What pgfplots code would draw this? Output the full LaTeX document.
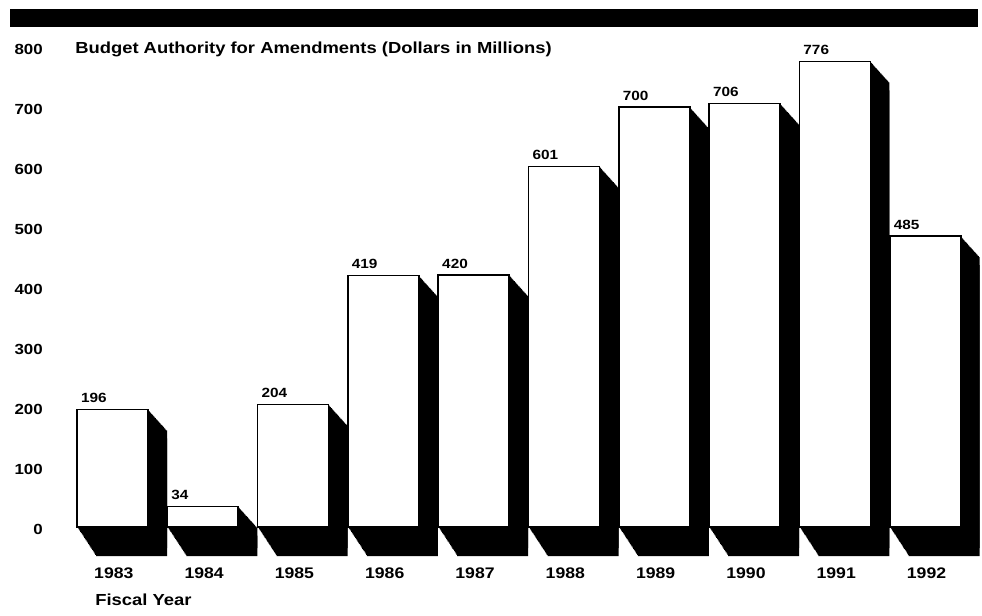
\documentclass[border=0pt]{standalone}
\usepackage{fontspec}
\setmainfont{Liberation Sans}[FakeStretch=1.15]
\usepackage{pgfplots}
\usepackage{pgfplotstable}
\pgfplotsset{compat=1.18}
\pgfplotsset{/pgf/number format/assume math mode=true}
\pgfplotstableread{
x y
0 196
1 34
2 204
3 419
4 420
5 601
6 700
7 706
8 776
9 485
}\datatable
\begin{document}
\begin{tikzpicture}
\useasboundingbox (0pt,0pt) rectangle (736.5pt,461.25pt);
\fill[black] (7.5pt,441pt) rectangle (733.5pt,454.5pt);
\node[anchor=base west, inner sep=0pt, font=\bfseries\fontsize{12}{14}\selectfont] at (56.25pt,421.1pt) {Budget Authority for Amendments (Dollars in Millions)};
\node[anchor=base west, inner sep=0pt, font=\bfseries\fontsize{12}{14}\selectfont] at (71.25pt,7.5pt) {Fiscal Year};
\begin{axis}[
  at={(50.5125pt,66pt)}, anchor=south west,
  scale only axis, width=684.04pt, height=360pt,
  xmin=-0.5, xmax=9.6, ymin=0, ymax=800,
  axis line style={draw=none}, tick style={draw=none},
  clip=false,
  xtick={0,1,2,3,4,5,6,7,8,9},
  xticklabels={1983,1984,1985,1986,1987,1988,1989,1990,1991,1992},
  ytick={0,100,...,800},
  yticklabel style={anchor=east, inner sep=0pt, xshift=-18.3pt, yshift=-1.5pt, font=\bfseries\fontsize{11}{13}\selectfont},
  xticklabel style={anchor=north, inner sep=0pt, yshift=-30.75pt, xshift=1pt, font=\bfseries\fontsize{11.5}{14}\selectfont},
]
\pgfplotsinvokeforeach{1,...,24}{
  \addplot[ybar, bar width=53.25pt, bar shift=0pt, fill=black, draw=none, xshift=#1*14.25pt/24, yshift=-#1*15.75pt/24] table[x=x,y=y]{\datatable};
  \addplot[ybar, bar width=53.25pt, bar shift=0pt, fill=black, draw=none, xshift=#1*14.25pt/24, yshift=-#1*21.75pt/24] table[x=x,y=y]{\datatable};
}
\addplot[ybar, bar width=53.25pt, bar shift=0pt, fill=white, draw=black, line width=1.3pt,
  nodes near coords,
  every node near coord/.append style={font=\bfseries\fontsize{10}{12}\selectfont, text width=40pt, align=left, inner sep=0pt, xshift=-3.6pt, yshift=4.5pt}
] table[x=x,y=y]{\datatable};
\end{axis}
\end{tikzpicture}
\end{document}
